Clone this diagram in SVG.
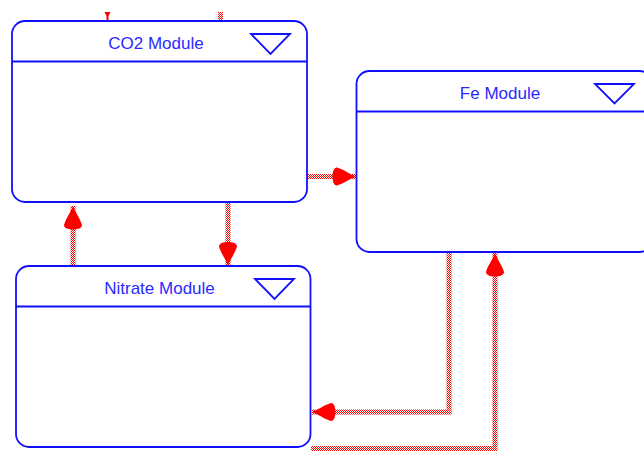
<svg xmlns="http://www.w3.org/2000/svg" width="644" height="451" viewBox="0 0 644 451">
<style>
.box{fill:#fff;stroke:#1010ff;stroke-width:1.8}
.hdr{stroke:#1010ff;stroke-width:1.8;fill:none}
.tri{fill:none;stroke:#1010ff;stroke-width:1.8}
.lbl{font-family:"Liberation Sans",Arial,sans-serif;font-size:17px;fill:#2a2aff;text-anchor:middle}
.conn{fill:none;stroke:url(#chk);stroke-width:5}
</style>
<defs>
<pattern id="chk" patternUnits="userSpaceOnUse" width="2" height="2">
<rect x="0" y="0" width="2" height="2" fill="#ffffff"/>
<rect x="0" y="0" width="1" height="1" fill="#ff0000"/>
<rect x="1" y="1" width="1" height="1" fill="#ff0000"/>
</pattern>
<marker id="arr" markerUnits="userSpaceOnUse" markerWidth="30" markerHeight="24" viewBox="-26 -12 28 24" refX="0" refY="0" orient="auto">
<path d="M0,0 C-5,-1.5 -12,-7 -19,-9 C-25,-9.5 -25,9.5 -19,9 C-12,7 -5,1.5 0,0 Z" fill="#ff0000"/>
</marker>
</defs>
<g id="connectors">
<path class="conn" d="M307,176.5 L356,176.5" marker-end="url(#arr)"/>
<path class="conn" d="M228,203 L228,265.5" marker-end="url(#arr)"/>
<path class="conn" d="M73,266 L73,206" marker-end="url(#arr)"/>
<path class="conn" d="M449,253 L449,412 L312,412" marker-end="url(#arr)"/>
<path class="conn" d="M311,448.5 L495,448.5 L495,253" marker-end="url(#arr)"/>
<path d="M104.5,12 L110.5,12 L108.5,16 L108.5,21 L106.5,21 L106.5,16 Z" fill="#ff0000"/>
<rect x="218" y="12" width="5" height="9" fill="url(#chk)"/>
</g>
<g id="co2-module">
<rect class="box" x="12" y="21" width="295" height="181" rx="13" ry="13"/>
<line class="hdr" x1="12" y1="61.5" x2="307" y2="61.5"/>
<text class="lbl" x="156" y="49">CO2 Module</text>
<path class="tri" d="M251,34 L290,34 L270.5,54 Z"/>
</g>
<g id="fe-module">
<rect class="box" x="356.5" y="71" width="296" height="181" rx="13" ry="13"/>
<line class="hdr" x1="356.5" y1="111.5" x2="652" y2="111.5"/>
<text class="lbl" x="500" y="98.5">Fe Module</text>
<path class="tri" d="M595,84 L634,84 L614.5,103.5 Z"/>
</g>
<g id="nitrate-module">
<rect class="box" x="16" y="266" width="294.5" height="181" rx="13" ry="13"/>
<line class="hdr" x1="16" y1="306.5" x2="310.5" y2="306.5"/>
<text class="lbl" x="159.5" y="293.5">Nitrate Module</text>
<path class="tri" d="M255,279 L294,279 L274.5,299 Z"/>
</g>
</svg>
